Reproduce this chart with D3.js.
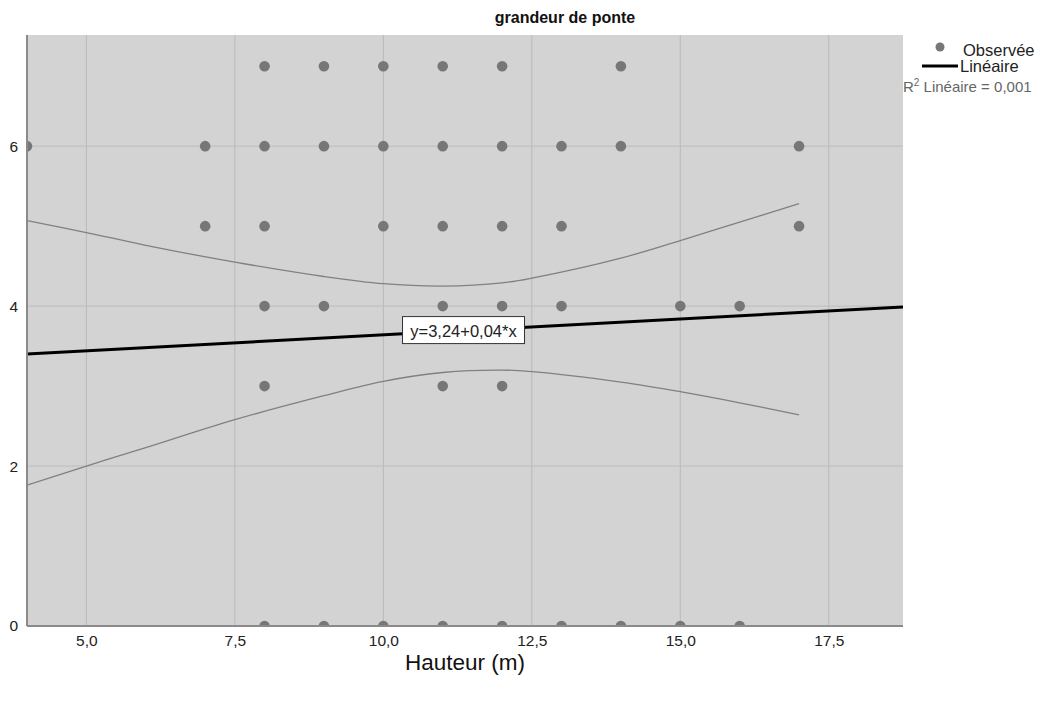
<!DOCTYPE html>
<html>
<head>
<meta charset="utf-8">
<script src="https://cdn.jsdelivr.net/npm/d3@7"></script>
<style>
  body { margin: 0; background: #fff; }
  text { font-family: Arial, "Liberation Sans", sans-serif; }
</style>
</head>
<body>
<div id="chart"></div>
<script>
// observed points (hauteur, grandeur de ponte)
const obsX = [8, 9, 10, 11, 12, 14,
              4, 7, 8, 9, 10, 11, 12, 13, 14, 17,
              7, 8, 10, 11, 12, 13, 17,
              8, 9, 11, 12, 13, 15, 16,
              8, 11, 12,
              8, 9, 10, 11, 12, 13, 14, 15, 16];
const obsY = [7, 7, 7, 7, 7, 7,
              6, 6, 6, 6, 6, 6, 6, 6, 6, 6,
              5, 5, 5, 5, 5, 5, 5,
              4, 4, 4, 4, 4, 4, 4,
              3, 3, 3,
              0, 0, 0, 0, 0, 0, 0, 0, 0];

// fitted line
const intercept = 3.24;
const slope = 0.04;
const fitX = [4, 18.75];

// confidence band
const bandX = [4, 5, 6, 7.5, 9, 10, 11, 12, 12.5, 14, 15, 16, 17];
const bandUpper = [5.07, 4.92, 4.76, 4.55, 4.37, 4.28, 4.25, 4.29, 4.35, 4.60, 4.82, 5.05, 5.28];
const bandLower = [1.76, 2.00, 2.23, 2.58, 2.88, 3.06, 3.17, 3.20, 3.18, 3.05, 2.93, 2.79, 2.64];

const xTicks = [5, 7.5, 10, 12.5, 15, 17.5];
const yTicks = [0, 2, 4, 6];
const labelX = 11.35;

const W = 1043, H = 702;
const plot = { left: 27, right: 903, top: 35, bottom: 626 };
const fr = d3.format(".1f");
const frComma = d => fr(d).replace(".", ",");

const svg = d3.select("#chart").append("svg")
  .attr("width", W).attr("height", H);

const x = d3.scaleLinear().domain([4, 18.75]).range([plot.left, plot.right]);
const y = d3.scaleLinear().domain([0, 7.39]).range([plot.bottom, plot.top]);

svg.append("defs").append("clipPath").attr("id", "clip")
  .append("rect")
  .attr("x", plot.left).attr("y", plot.top)
  .attr("width", plot.right - plot.left).attr("height", plot.bottom - plot.top);

// background
svg.append("rect")
  .attr("x", plot.left).attr("y", plot.top)
  .attr("width", plot.right - plot.left).attr("height", plot.bottom - plot.top)
  .attr("fill", "#d3d3d3");

// grid
svg.append("g").selectAll("line").data(xTicks).enter().append("line")
  .attr("x1", d => x(d)).attr("x2", d => x(d))
  .attr("y1", plot.top).attr("y2", plot.bottom)
  .attr("stroke", "#b9b9b9").attr("stroke-width", 1);
svg.append("g").selectAll("line").data(yTicks).enter().append("line")
  .attr("x1", plot.left).attr("x2", plot.right)
  .attr("y1", d => y(d)).attr("y2", d => y(d))
  .attr("stroke", "#bdbdbd").attr("stroke-width", 1);

// axes
const xAxis = d3.axisBottom(x).tickValues(xTicks).tickFormat(frComma).tickSize(0).tickPadding(9);
const gx = svg.append("g").attr("transform", `translate(0,${plot.bottom})`).call(xAxis);
gx.select(".domain").remove();
gx.selectAll("text").attr("font-size", 15.5).attr("fill", "#222");

const yAxis = d3.axisLeft(y).tickValues(yTicks).tickFormat(d3.format("d")).tickSize(0).tickPadding(9);
const gy = svg.append("g").attr("transform", `translate(${plot.left},0)`).call(yAxis);
gy.select(".domain").remove();
gy.selectAll("text").attr("font-size", 15.5).attr("fill", "#222");

const inner = svg.append("g").attr("clip-path", "url(#clip)");

// band
const bandLine = d3.line().x(d => x(d[0])).y(d => y(d[1])).curve(d3.curveCatmullRom.alpha(0.5));
[bandUpper, bandLower].forEach(arr => {
  inner.append("path")
    .datum(bandX.map((v, i) => [v, arr[i]]))
    .attr("d", bandLine)
    .attr("fill", "none").attr("stroke", "#808080").attr("stroke-width", 1.3);
});

// points
inner.selectAll("circle.obs").data(obsX.map((v, i) => [v, obsY[i]])).enter()
  .append("circle").attr("class", "obs")
  .attr("cx", d => x(d[0])).attr("cy", d => y(d[1]))
  .attr("r", 5.3).attr("fill", "#777777");

// fit line
inner.append("path")
  .datum(fitX.map(v => [v, intercept + slope * v]))
  .attr("d", d3.line().x(d => x(d[0])).y(d => y(d[1])))
  .attr("fill", "none").attr("stroke", "#000").attr("stroke-width", 3);

// axis lines
svg.append("line").attr("x1", plot.left).attr("x2", plot.left)
  .attr("y1", plot.top).attr("y2", plot.bottom)
  .attr("stroke", "#8a8a8a").attr("stroke-width", 2);
svg.append("line").attr("x1", plot.left).attr("x2", plot.right)
  .attr("y1", plot.bottom).attr("y2", plot.bottom)
  .attr("stroke", "#8a8a8a").attr("stroke-width", 2);

// equation label
const lx = x(labelX), ly = y(intercept + slope * labelX);
svg.append("rect").attr("x", lx - 61).attr("y", ly - 14)
  .attr("width", 122).attr("height", 27)
  .attr("fill", "#fff").attr("stroke", "#333").attr("stroke-width", 1);
svg.append("text").attr("x", lx).attr("y", ly + 6)
  .attr("text-anchor", "middle").attr("font-size", 16.5).attr("fill", "#222")
  .text("y=3,24+0,04*x");

// title
svg.append("text").attr("x", 565).attr("y", 23)
  .attr("text-anchor", "middle").attr("font-size", 16).attr("font-weight", "bold")
  .attr("fill", "#111").text("grandeur de ponte");

// x axis title
svg.append("text").attr("x", 465).attr("y", 670)
  .attr("text-anchor", "middle").attr("font-size", 22.5)
  .attr("fill", "#111").text("Hauteur (m)");

// legend
const lg = svg.append("g");
lg.append("circle").attr("cx", 940).attr("cy", 47).attr("r", 4.5).attr("fill", "#777");
lg.append("text").attr("x", 963).attr("y", 56).attr("font-size", 16.5).attr("fill", "#222").text("Observée");
lg.append("line").attr("x1", 922).attr("x2", 958).attr("y1", 66).attr("y2", 66)
  .attr("stroke", "#000").attr("stroke-width", 3);
lg.append("text").attr("x", 960).attr("y", 72).attr("font-size", 16.5).attr("fill", "#222").text("Linéaire");
const r2 = lg.append("text").attr("x", 903).attr("y", 92).attr("font-size", 15).attr("fill", "#666");
r2.append("tspan").text("R");
r2.append("tspan").attr("dy", -6).attr("font-size", 10).text("2");
r2.append("tspan").attr("dy", 6).text(" Linéaire = 0,001");
</script>
</body>
</html>
